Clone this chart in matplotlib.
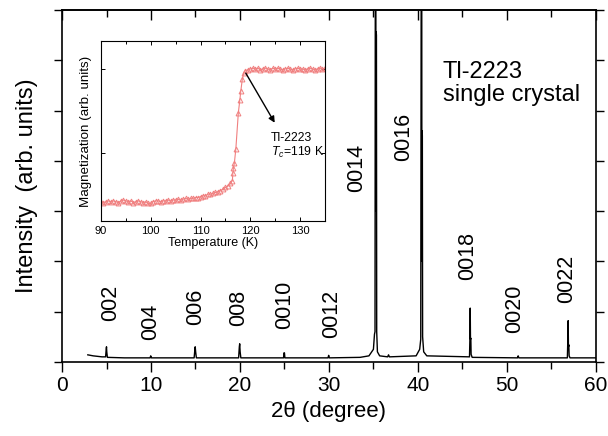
import matplotlib
matplotlib.use("Agg")
import matplotlib.pyplot as plt
from matplotlib.ticker import MultipleLocator, NullFormatter

plt.rcParams['font.family'] = ['Liberation Sans', 'DejaVu Sans']
plt.rcParams['mathtext.fontset'] = 'custom'
plt.rcParams['mathtext.rm'] = 'Liberation Sans'
plt.rcParams['mathtext.it'] = 'Liberation Sans:italic'

# XRD pattern (2theta in degree, intensity arb. units)
two_theta = [2.9, 3.5, 4.5, 4.9, 4.97, 5.0, 5.03, 5.1, 7.0, 9.9, 9.97, 10.05,
             14.85, 14.92, 14.97, 15.02, 15.1, 19.85, 19.93, 19.97, 20.02, 20.1,
             24.9, 24.95, 25.0, 25.05, 29.9, 29.97, 30.05, 33.5, 34.5, 35.0,
             35.12, 35.18, 35.22, 35.27, 35.29, 35.31, 35.34, 35.37, 35.45,
             35.7, 36.6, 36.7, 36.8, 39.8, 40.2, 40.32, 40.38, 40.43, 40.45,
             40.47, 40.5, 40.53, 40.65, 41.0, 45.8, 45.85, 45.88, 45.91, 45.95,
             45.98, 46.1, 51.2, 51.27, 51.35, 56.8, 56.86, 56.89, 56.92, 56.96,
             57.0, 57.1, 60.0]
intensity = [0.14, 0.12, 0.10, 0.10, 0.26, 0.30, 0.20, 0.09, 0.08, 0.08, 0.12, 0.08,
             0.08, 0.22, 0.30, 0.20, 0.08, 0.08, 0.30, 0.36, 0.20, 0.08,
             0.08, 0.18, 0.18, 0.08, 0.08, 0.13, 0.08, 0.09, 0.12, 0.25,
             0.55, 0.60, 9.0, 9.0, 3.0, 6.57, 6.50, 0.60, 0.20,
             0.12, 0.10, 0.14, 0.10, 0.12, 0.25, 0.45, 9.0, 9.0, 2.0,
             4.60, 4.50, 0.50, 0.20, 0.12, 0.10, 0.50, 1.07, 0.45, 0.47,
             0.15, 0.09, 0.08, 0.12, 0.08, 0.08, 0.50, 0.82, 0.30, 0.34,
             0.12, 0.08, 0.08]

# (00l) reflection labels and where they sit
peak_labels = ['002', '004', '006', '008', '0010', '0012', '0014', '0016',
               '0018', '0020', '0022']
label_x = [5.5, 10.0, 15.0, 19.9, 25.0, 30.3, 33.1, 38.4, 45.6, 50.9, 56.7]
label_y = [1.17, 0.80, 1.09, 1.07, 1.13, 0.95, 3.86, 4.47, 2.11, 1.05, 1.65]

# inset: magnetization vs temperature
temp_K = [90.0, 90.5, 91.0, 91.5, 92.0, 92.5, 93.0, 93.5, 94.0, 94.5, 95.0, 95.5,
          96.0, 96.5, 97.0, 97.5, 98.0, 98.5, 99.0, 99.5, 100.0, 100.5, 101.0,
          101.5, 102.0, 102.5, 103.0, 103.5, 104.0, 104.5, 105.0, 105.5, 106.0,
          106.5, 107.0, 107.5, 108.0, 108.5, 109.0, 109.5, 110.0, 110.5, 111.0,
          111.5, 112.0, 112.5, 113.0, 113.5, 114.0, 114.5, 115.0, 115.5, 116.0,
          116.4, 116.5, 116.6, 116.8, 117.1, 117.6, 117.9, 118.1, 118.4, 118.7,
          119.0, 119.5, 120.0, 120.5, 121.0, 121.5, 122.0, 122.5, 123.0, 123.5,
          124.0, 124.5, 125.0, 125.5, 126.0, 126.5, 127.0, 127.5, 128.0, 128.5,
          129.0, 129.5, 130.0, 130.5, 131.0, 131.5, 132.0, 132.5, 133.0, 133.5,
          134.0, 134.5, 135.0]
magnet = [-1.58, -1.59, -1.58, -1.57, -1.58, -1.57, -1.58, -1.59, -1.57, -1.56,
          -1.57, -1.58, -1.57, -1.59, -1.58, -1.57, -1.58, -1.59, -1.58, -1.60,
          -1.60, -1.58, -1.57, -1.57, -1.58, -1.57, -1.57, -1.56, -1.57, -1.56,
          -1.56, -1.55, -1.56, -1.55, -1.54, -1.55, -1.54, -1.54, -1.53, -1.53,
          -1.52, -1.51, -1.51, -1.49, -1.49, -1.48, -1.47, -1.46, -1.45, -1.43,
          -1.41, -1.39, -1.36, -1.33, -1.24, -1.18, -1.12, -0.95, -0.52, -0.37,
          -0.26, -0.12, -0.05, -0.02, -0.01, 0.00, 0.01, 0.00, 0.01, -0.01,
          0.00, 0.01, 0.00, -0.01, 0.01, 0.00, 0.01, 0.00, -0.01, 0.00,
          0.01, 0.00, -0.01, 0.00, 0.01, 0.00, 0.00, -0.01, 0.00, 0.01,
          0.00, -0.01, 0.00, 0.01, 0.00, 0.01]

fig = plt.figure(figsize=(6.08, 4.36), dpi=100)
ax = fig.add_axes([0.102, 0.170, 0.878, 0.807])

ax.plot(two_theta, intensity, color='black', lw=1.0)
ax.set_xlim(0, 60)
ax.set_ylim(0, 7)
ax.xaxis.set_major_locator(MultipleLocator(10))
ax.xaxis.set_minor_locator(MultipleLocator(5))
ax.yaxis.set_major_locator(MultipleLocator(1))
ax.yaxis.set_major_formatter(NullFormatter())
ax.tick_params(axis='x', which='both', direction='out', labelsize=15, width=1.0)
ax.tick_params(axis='x', which='major', length=7)
ax.tick_params(axis='x', which='minor', length=5)
ax.tick_params(axis='y', which='major', direction='out', length=6, right=True,
               width=1.0)
for s in ax.spines.values():
    s.set_linewidth(1.2)

# top axis: ticks point inwards, no labels
top = ax.secondary_xaxis('top')
top.xaxis.set_major_locator(MultipleLocator(10))
top.xaxis.set_minor_locator(MultipleLocator(5))
top.xaxis.set_major_formatter(NullFormatter())
top.tick_params(which='both', direction='in', width=1.0)
top.tick_params(which='major', length=7)
top.tick_params(which='minor', length=5)
top.spines['top'].set_linewidth(1.2)

ax.set_xlabel('2θ (degree)', fontsize=16, labelpad=4)
ax.set_ylabel('Intensity  (arb. units)', fontsize=17, labelpad=8)

for lab, lx, ly in zip(peak_labels, label_x, label_y):
    ax.text(lx, ly, lab, rotation=90, ha='center', va='center', fontsize=15.5)

ax.text(42.8, 5.98, 'Tl-2223\nsingle crystal', ha='left', va='top',
        fontsize=17, linespacing=1.05)

# inset
ins = fig.add_axes([0.166, 0.493, 0.3685, 0.413])
ins.plot(temp_K, magnet, color='#f08080', lw=0.8, marker='^', ms=3.5,
         mfc='none', mec='#f08080', mew=0.7)
ins.set_xlim(90, 135)
ins.set_ylim(-1.81, 0.333)
ins.xaxis.set_major_locator(MultipleLocator(10))
ins.xaxis.set_minor_locator(MultipleLocator(5))
ins.set_yticks([-1, 0])
ins.yaxis.set_major_formatter(NullFormatter())
ins.tick_params(which='both', direction='in', top=True, right=True,
                labelsize=8, width=0.7)
ins.tick_params(which='major', length=3)
ins.tick_params(which='minor', length=2)
for s in ins.spines.values():
    s.set_linewidth(0.8)
ins.set_xlabel('Temperature (K)', fontsize=9, labelpad=1)
ins.set_ylabel('Magnetization (arb. units)', fontsize=9.6, labelpad=3)

ins.annotate('', xy=(124.9, -0.64), xytext=(119.1, -0.05),
             arrowprops=dict(arrowstyle='-|>', color='black', lw=1.0,
                             mutation_scale=9, shrinkA=0, shrinkB=0))
ins.text(124.1, -0.82, 'Tl-2223', ha='left', va='center', fontsize=8.8)
ins.text(124.1, -0.99, r'$T_c$=119 K', ha='left', va='center', fontsize=8.8)

fig.savefig('out.png', dpi=100)
